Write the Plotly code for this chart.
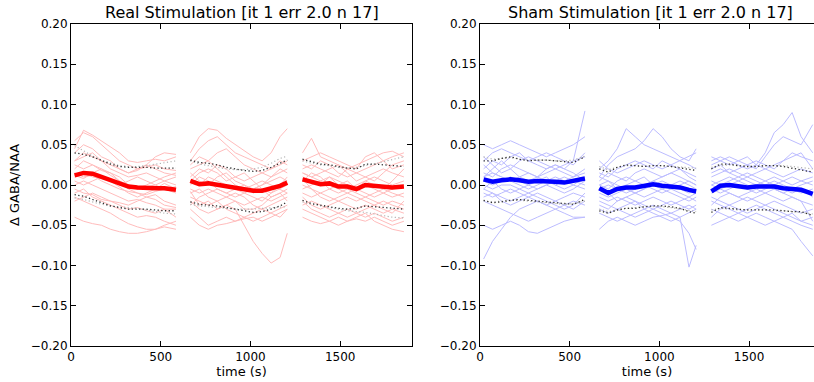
import plotly.graph_objects as go

# time points (s) for the three recording segments
seg1_t = [20, 70, 120, 170, 220, 270, 320, 370, 420, 470, 520, 585]
seg2_t = [665, 715, 765, 815, 865, 915, 965, 1015, 1065, 1115, 1165, 1205]
seg3_t = [1290, 1340, 1390, 1440, 1490, 1540, 1590, 1640, 1690, 1740, 1790, 1855]

x_ticks = [0, 500, 1000, 1500]
y_ticks = [-0.20, -0.15, -0.10, -0.05, 0.00, 0.05, 0.10, 0.15, 0.20]

titles = ["Real Stimulation [it 1 err 2.0 n 17]", "Sham Stimulation [it 1 err 2.0 n 17]"]

# ---------------- Real stimulation ----------------
real_mean = [.012, .015, .014, .010, .005, .001, -.002, -.003, -.004, -.004, -.004, -.006,
             .005, .001, .002, .000, -.002, -.003, -.005, -.007, -.007, -.004, -.001, .003,
             .007, .004, .001, .002, -.002, -.002, -.005, .000, -.001, -.003, -.003, -.002]
real_up = [.040, .038, .035, .030, .026, .023, .022, .022, .022, .021, .021, .021,
           .031, .028, .027, .025, .022, .020, .018, .017, .018, .022, .027, .031,
           .032, .029, .026, .025, .023, .021, .020, .026, .026, .025, .024, .023]
real_lo = [-.012, -.014, -.018, -.022, -.026, -.028, -.030, -.030, -.030, -.031, -.032, -.032,
           -.021, -.024, -.025, -.026, -.028, -.030, -.032, -.034, -.033, -.030, -.026, -.021,
           -.019, -.023, -.025, -.027, -.029, -.030, -.029, -.026, -.027, -.028, -.029, -.030]
real_up2 = [.049, .042, .036, .031, .027, .024, .023, .023, .024, .026, .028, .030,
            .030, .026, .024, .022, .020, .019, .019, .020, .022, .027, .033, .036,
            .030, .027, .025, .024, .022, .021, .022, .024, .026, .029, .032, .035]
real_lo2 = [-.016, -.018, -.021, -.024, -.026, -.027, -.028, -.029, -.031, -.033, -.035, -.036,
            -.024, -.026, -.027, -.028, -.029, -.030, -.030, -.030, -.029, -.028, -.027, -.027,
            -.021, -.024, -.026, -.028, -.030, -.032, -.033, -.034, -.036, -.038, -.040, -.041]

real_subjects = [
    [.055, .065, .060, .050, .040, .030, .025, .020, .022, .025, .020, .018,
     .040, .060, .070, .068, .058, .050, .042, .035, .030, .040, .060, .070,
     .040, .058, .035, .030, .025, .020, .025, .030, .035, .040, .042, .035],
    [.045, .068, .062, .055, .048, .040, .030, .028, .030, .032, .030, .035,
     .030, .045, .055, .060, .050, .040, .035, .030, .025, .020, .025, .030,
     .030, .035, .040, .035, .030, .025, .020, .035, .040, .030, .035, .040],
    [.040, .050, .045, .035, .030, .020, .015, .018, .025, .035, .040, .038,
     .020, .025, .030, .040, .045, .035, .025, .020, .015, .020, .030, .025,
     .025, .020, .030, .025, .015, .010, .015, .020, .025, .030, .020, .025],
    [.030, .035, .040, .030, .020, .015, .010, .012, .015, .010, .005, .000,
     .010, .020, .015, .025, .020, .010, .005, .010, .015, .010, .015, .020,
     .015, .010, .015, .020, .025, .015, .005, .010, .015, .020, .015, .010],
    [.025, .020, .025, .020, .012, .005, .000, -.005, -.002, .000, .005, .010,
     .005, .000, .010, .005, .000, -.005, -.010, -.005, .000, .005, .010, .005,
     .010, .005, .000, .010, .005, .000, -.005, .005, .010, .005, .000, .005],
    [.020, .030, .025, .018, .015, .005, -.005, -.010, -.012, -.008, -.005, -.010,
     .000, .010, .005, -.005, -.010, -.015, -.010, -.015, -.020, -.010, -.005, .000,
     .005, .015, .010, .000, -.005, -.010, -.005, .000, -.005, -.010, -.005, .000],
    [.015, .010, .012, .005, .000, -.005, -.008, -.010, -.015, -.012, -.020, -.025,
     -.005, -.010, -.005, -.010, -.015, -.020, -.025, -.020, -.015, -.020, -.015, -.010,
     .000, -.005, -.010, -.005, .000, .005, -.005, -.010, -.015, -.010, -.015, -.010],
    [.010, .015, .010, .008, .005, -.002, -.010, -.015, -.010, -.005, .002, -.005,
     -.010, -.005, -.015, -.020, -.015, -.010, -.015, -.025, -.030, -.025, -.020, -.015,
     -.005, .000, .005, .010, .000, -.005, -.010, -.015, -.010, -.005, -.010, -.015],
    [.005, .000, .005, .010, .005, .000, .005, .010, .005, .000, -.005, -.002,
     -.015, -.020, -.025, -.020, -.030, -.035, -.040, -.045, -.040, -.035, -.030, -.025,
     -.010, -.015, -.010, -.015, -.020, -.015, -.020, -.015, -.020, -.025, -.020, -.025],
    [.000, .005, .000, -.005, -.010, -.015, -.020, -.018, -.022, -.025, -.030, -.030,
     -.020, -.030, -.035, -.030, -.025, -.030, -.050, -.070, -.085, -.097, -.090, -.060,
     -.015, -.025, -.030, -.025, -.020, -.025, -.030, -.025, -.030, -.035, -.030, -.035],
    [-.005, -.010, -.012, -.018, -.020, -.025, -.030, -.028, -.032, -.035, -.030, -.040,
     -.030, -.040, -.050, -.045, -.040, -.045, -.040, -.035, -.030, -.035, -.040, -.030,
     -.020, -.030, -.035, -.040, -.035, -.030, -.035, -.040, -.035, -.040, -.045, -.040],
    [-.010, -.005, -.015, -.020, -.025, -.030, -.035, -.040, -.038, -.040, -.045, -.050,
     -.040, -.050, -.055, -.050, -.048, -.045, -.042, -.040, -.045, -.040, -.035, -.030,
     -.030, -.035, -.040, -.045, -.040, -.045, -.040, -.035, -.045, -.050, -.055, -.058],
    [-.015, -.020, -.025, -.030, -.035, -.042, -.048, -.052, -.055, -.055, -.050, -.045,
     .015, .005, .000, .010, .015, .005, .000, -.005, .000, .010, .020, .015,
     -.040, -.045, -.048, -.045, -.050, -.045, -.042, -.045, -.040, -.045, -.050, -.045],
    [-.040, -.045, -.048, -.050, -.055, -.058, -.060, -.060, -.058, -.055, -.052, -.055,
     .025, .035, .030, .020, .010, .000, -.005, .000, .005, .000, -.005, -.010,
     .020, .025, .020, .015, .010, .020, .015, .010, .005, .015, .025, .030],
    [-.020, -.015, -.010, -.015, -.020, -.022, -.025, -.020, -.015, -.018, -.025, -.028,
     -.025, -.015, -.010, -.005, -.010, -.005, .000, -.010, -.005, -.015, -.010, -.020,
     .008, -.005, -.015, -.020, -.015, -.010, -.015, -.020, -.025, -.020, -.025, -.030],
    [.030, .040, .035, .030, .025, .020, .015, .020, .025, .020, .015, .012,
     .005, .015, .020, .015, .005, .010, .015, .005, -.005, -.010, .000, .010,
     -.025, -.020, -.025, -.030, -.035, -.040, -.035, -.030, -.025, -.030, -.035, -.020],
    [.012, .008, .015, .020, .015, .010, .000, -.005, .000, .005, .010, .015,
     -.008, -.025, -.020, -.030, -.025, -.020, -.030, -.030, -.025, -.015, -.010, -.005,
     .015, .010, .005, -.005, -.010, -.005, .000, .005, .000, -.005, .005, .020],
]

# ---------------- Sham stimulation ----------------
sham_mean = [.007, .004, .006, .007, .006, .004, .005, .005, .004, .003, .005, .008,
             -.004, -.010, -.005, -.003, -.003, -.001, .001, -.001, -.002, -.003, -.006, -.008,
             -.008, -.001, .000, -.002, -.003, -.002, -.002, -.002, -.004, -.005, -.006, -.011]
sham_up = [.030, .030, .033, .035, .032, .030, .031, .031, .030, .029, .028, .035,
           .020, .016, .022, .025, .024, .023, .024, .024, .023, .021, .019, .018,
           .020, .026, .026, .024, .023, .023, .024, .024, .023, .021, .019, .016]
sham_lo = [-.019, -.022, -.021, -.019, -.018, -.019, -.020, -.021, -.022, -.023, -.024, -.018,
           -.032, -.035, -.031, -.029, -.029, -.027, -.026, -.026, -.027, -.029, -.033, -.035,
           -.034, -.028, -.029, -.030, -.031, -.031, -.031, -.031, -.032, -.033, -.033, -.038]
sham_up2 = [.035, .032, .033, .034, .032, .031, .031, .031, .030, .030, .031, .036,
            .023, .019, .022, .024, .024, .023, .024, .024, .023, .022, .021, .021,
            .022, .024, .025, .024, .023, .023, .024, .024, .024, .023, .022, .020]
sham_lo2 = [-.020, -.021, -.020, -.019, -.019, -.020, -.021, -.022, -.023, -.024, -.023, -.020,
            -.030, -.033, -.031, -.029, -.028, -.027, -.027, -.027, -.028, -.030, -.032, -.033,
            -.031, -.029, -.030, -.031, -.031, -.031, -.031, -.032, -.032, -.033, -.034, -.036]

sham_subjects = [
    [.050, .045, .050, .055, .050, .045, .040, .035, .040, .045, .050, .060,
     .020, .030, .045, .070, .060, .050, .045, .040, .035, .030, .025, .020,
     .030, .035, .030, .025, .020, .025, .040, .065, .075, .090, .060, .040],
    [.030, .040, .045, .040, .035, .030, .035, .040, .035, .030, .025, .040,
     .010, .025, .035, .040, .045, .055, .070, .060, .045, .035, .030, .045,
     .025, .030, .035, .030, .025, .020, .035, .050, .060, .055, .050, .075],
    [.020, .030, .025, .035, .040, .030, .025, .020, .025, .020, .030, .092,
     .015, .010, .020, .025, .030, .025, .020, .030, .025, .020, .015, .010,
     .020, .025, .015, .020, .025, .030, .025, .020, .030, .040, .035, .030],
    [.015, .010, .020, .025, .020, .015, .010, .015, .020, .015, .010, .020,
     .005, .015, .010, .005, .015, .020, .015, .010, .015, .020, .010, .005,
     .010, .015, .020, .015, .010, .015, .020, .015, .010, .015, .020, .015],
    [.010, .015, .010, .005, .010, .015, .010, .005, .000, .005, .010, .015,
     .000, -.005, .005, .010, .005, .000, .005, .000, -.005, .000, .005, .000,
     .005, .000, .005, .010, .005, .000, .005, .010, .005, .000, .005, .010],
    [.005, .000, .005, .010, .005, .000, -.005, .000, .005, .010, .005, .000,
     -.005, .000, -.005, -.010, -.005, .000, -.005, -.010, -.005, -.010, -.015, -.010,
     .000, .005, .010, .005, .000, -.005, .000, .005, .000, -.005, -.010, -.005],
    [.000, -.005, .000, .000, -.005, -.010, -.005, .000, -.005, -.010, -.005, .005,
     -.010, -.015, -.010, -.005, -.010, -.015, -.010, -.005, -.010, -.015, -.020, -.015,
     -.005, -.010, -.005, .000, -.005, -.010, -.005, .000, -.005, -.010, -.005, -.015],
    [-.005, .005, -.005, -.010, -.005, .000, .005, .010, .000, -.005, .000, -.005,
     -.015, -.020, -.015, -.020, -.025, -.020, -.015, -.020, -.025, -.020, -.015, -.020,
     -.010, -.005, -.010, -.015, -.010, -.005, -.010, -.015, -.020, -.015, -.020, -.025],
    [-.010, -.015, -.010, -.005, -.010, -.015, -.010, -.015, -.020, -.015, -.010, -.015,
     -.020, -.025, -.030, -.025, -.020, -.025, -.030, -.025, -.020, -.025, -.030, -.025,
     -.015, -.020, -.025, -.020, -.015, -.020, -.025, -.020, -.025, -.030, -.035, -.030],
    [-.015, -.010, -.020, -.025, -.020, -.015, -.020, -.025, -.020, -.025, -.030, -.020,
     -.030, -.035, -.030, -.035, -.040, -.035, -.030, -.035, -.040, -.045, -.060, -.080,
     -.020, -.025, -.030, -.035, -.030, -.025, -.030, -.035, -.040, -.035, -.045, -.050],
    [-.020, -.025, -.030, -.035, -.040, -.045, -.040, -.035, -.030, -.035, -.040, -.040,
     -.055, -.045, -.040, -.045, -.050, -.045, -.040, -.038, -.035, -.040, -.102, -.075,
     -.030, -.035, -.040, -.045, -.040, -.035, -.040, -.045, -.050, -.055, -.070, -.088],
    [-.092, -.070, -.055, -.040, -.030, -.025, -.020, -.025, -.030, -.025, -.020, -.025,
     -.035, -.040, -.045, -.040, -.035, -.030, -.035, -.040, -.045, -.040, -.035, -.030,
     -.050, -.045, -.040, -.035, -.040, -.045, -.050, -.045, -.040, -.045, -.050, -.055],
    [-.050, -.055, -.050, -.045, -.050, -.058, -.060, -.055, -.050, -.045, -.042, -.040,
     .030, .020, .015, .020, .025, .030, .025, .020, .025, .030, .035, .040,
     .035, .030, .025, .030, .035, .025, .020, .025, .030, .035, .040, .020],
    [.035, .025, .015, .020, .030, .035, .030, .025, .020, .025, .030, .035,
     -.005, -.010, -.020, -.015, -.010, -.005, .000, .005, .000, -.005, -.010, -.005,
     -.025, -.015, -.010, -.015, -.020, -.015, -.010, -.005, -.010, -.015, -.020, -.045],
    [.010, .020, .030, .020, .010, .005, .010, .020, .025, .020, .015, .005,
     .000, .005, .000, -.005, -.010, -.005, .005, .010, .015, .010, .005, .000,
     .015, .020, .015, .010, .015, .010, .005, .000, .005, .010, .005, .000],
    [-.005, -.010, -.015, -.020, -.015, -.010, -.015, -.020, -.025, -.030, -.025, -.010,
     -.025, -.030, -.020, -.015, -.020, -.030, -.025, -.030, -.035, -.030, -.025, -.030,
     -.040, -.030, -.025, -.030, -.035, -.030, -.025, -.030, -.035, -.040, -.045, -.040],
    [.025, .015, .010, .005, .000, -.005, .000, .005, .010, .005, .000, .010,
     .010, .005, -.005, .000, .005, .010, .000, -.005, .000, .005, .000, -.005,
     .000, -.005, .000, .005, .010, .005, .000, -.005, -.010, -.005, .000, .005],
]

segments = [seg1_t, seg2_t, seg3_t]


def with_gaps(values):
    xs, ys = [], []
    for k, ts in enumerate(segments):
        vals = values[k * 12:(k + 1) * 12]
        xs += ts + [None]
        ys += vals + [None]
    return xs[:-1], ys[:-1]


fig = go.Figure()

panels = [
    ("x", "y", real_subjects, real_mean, real_up, real_lo, real_up2, real_lo2, "#ffbcbc", "#ff0000"),
    ("x2", "y2", sham_subjects, sham_mean, sham_up, sham_lo, sham_up2, sham_lo2, "#bcbcff", "#0000ff"),
]

for xa, ya, subs, mean, up, lo, up2, lo2, light, strong in panels:
    for s in subs:
        xs, ys = with_gaps(s)
        fig.add_trace(go.Scatter(x=xs, y=ys, mode="lines", xaxis=xa, yaxis=ya,
                                 line=dict(color=light, width=1), showlegend=False, hoverinfo="skip"))
    for arr in (up2, lo2):
        xs, ys = with_gaps(arr)
        fig.add_trace(go.Scatter(x=xs, y=ys, mode="lines", xaxis=xa, yaxis=ya,
                                 line=dict(color="#b4b4b4", width=1.2, dash="1.2px,2.4px"), showlegend=False))
    for arr in (up, lo):
        xs, ys = with_gaps(arr)
        fig.add_trace(go.Scatter(x=xs, y=ys, mode="lines", xaxis=xa, yaxis=ya,
                                 line=dict(color="#303030", width=1.3, dash="1.3px,2.4px"), showlegend=False))
    xs, ys = with_gaps(mean)
    fig.add_trace(go.Scatter(x=xs, y=ys, mode="lines", xaxis=xa, yaxis=ya,
                             line=dict(color=strong, width=4.5), showlegend=False))

W, H = 814, 382
font = dict(family="DejaVu Sans", size=12, color="black")
title_font = dict(family="DejaVu Sans", size=13, color="black")
common = dict(showline=True, linecolor="black", linewidth=1, ticks="inside", ticklen=5,
              tickcolor="black", showgrid=False, zeroline=False, tickfont=font, automargin=False)

fig.update_layout(
    width=W, height=H,
    margin=dict(l=0, r=0, t=24, b=36),
    paper_bgcolor="white", plot_bgcolor="white",
    font=font,
    xaxis=dict(domain=[71 / W, 412 / W], range=[0, 1900], tickvals=x_ticks, mirror="ticks",
               title=dict(text="time (s)", font=title_font, standoff=0), anchor="y", **common),
    yaxis=dict(domain=[0, 1], range=[-0.2, 0.2], tickvals=y_ticks, tickformat=".2f", mirror="ticks",
               title=dict(text="Δ GABA/NAA", font=title_font, standoff=8), anchor="x", **common),
    xaxis2=dict(domain=[480 / W, 1.0], range=[0, 1862], tickvals=x_ticks, mirror="ticks",
                title=dict(text="time (s)", font=title_font, standoff=0), anchor="y2", **common),
    yaxis2=dict(domain=[0, 1], range=[-0.2, 0.2], tickvals=y_ticks, tickformat=".2f", mirror=False,
                anchor="x2", **common),
    annotations=[
        dict(text=titles[0], x=241.5 / W, y=1, xref="paper", yref="paper", xanchor="center",
             yanchor="bottom", yshift=0, showarrow=False, font=dict(family="DejaVu Sans", size=16, color="black")),
        dict(text=titles[1], x=650.5 / W, y=1, xref="paper", yref="paper", xanchor="center",
             yanchor="bottom", yshift=0, showarrow=False, font=dict(family="DejaVu Sans", size=16, color="black")),
    ],
)

fig.write_html("out.html", config={"displayModeBar": False},
               post_script="document.body.style.margin='0';document.body.style.overflow='hidden';")
